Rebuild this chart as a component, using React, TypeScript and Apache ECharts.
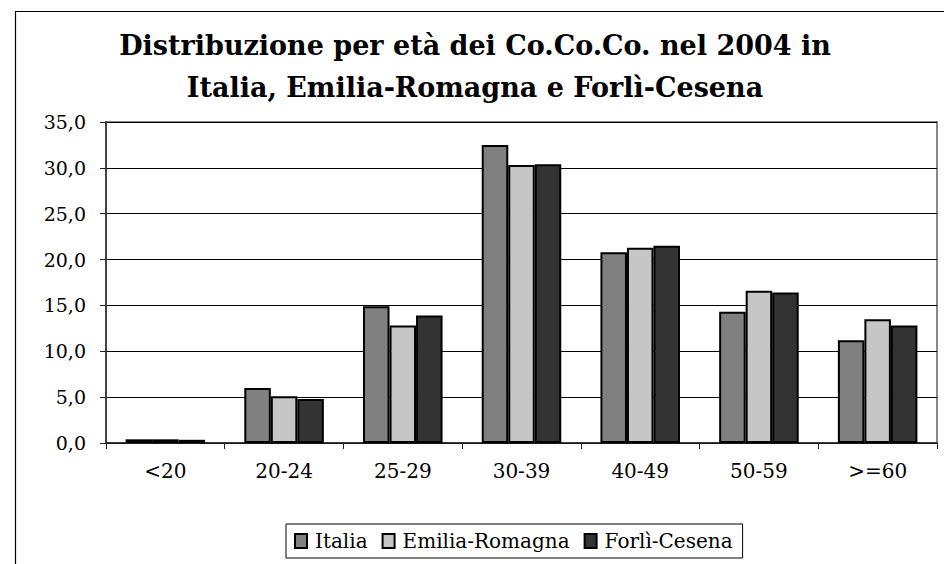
import React, { useEffect, useRef } from "react";
import * as echarts from "echarts";

const categories = ["<20", "20-24", "25-29", "30-39", "40-49", "50-59", ">=60"];
const italia = [0.4, 6.0, 14.9, 32.5, 20.8, 14.3, 11.2];
const emiliaRomagna = [0.4, 5.1, 12.8, 30.3, 21.3, 16.6, 13.5];
const forliCesena = [0.35, 4.8, 13.9, 30.4, 21.5, 16.4, 12.8];
const seriesNames = ["Italia", "Emilia-Romagna", "Forlì-Cesena"];
const titleLines = ["Distribuzione per età dei Co.Co.Co. nel 2004 in", "Italia, Emilia-Romagna e Forlì-Cesena"];

const FONT = "DejaVu Serif";

export default function App() {
  const ref = useRef<HTMLDivElement>(null);
  useEffect(() => {
    document.body.style.margin = "0";
    const chart = echarts.init(ref.current!, null, { renderer: "svg" });
    const barStyle = (color: string) => ({
      color,
      borderColor: "#000",
      borderWidth: 2,
    });
    chart.setOption({
      animation: false,
      backgroundColor: "#fff",
      title: {
        text: titleLines.join("\n"),
        left: 470,
        textAlign: "center",
        top: 19,
        textStyle: {
          fontFamily: FONT,
          fontWeight: "bold",
          fontSize: 27,
          lineHeight: 42,
          color: "#000",
        },
      },
      graphic: [
        {
          type: "rect",
          shape: { x: 15.5, y: 11.5, width: 1000, height: 1000 },
          style: { fill: "none", stroke: "#000", lineWidth: 1.2 },
          silent: true,
          z: 100,
        },
      ],
      legend: {
        data: seriesNames,
        bottom: 6,
        left: 286,
        itemWidth: 12,
        itemHeight: 14,
        itemGap: 14,
        icon: "rect",
        padding: [7, 10, 7, 8],
        borderColor: "#000",
        borderWidth: 1,
        borderRadius: 0,
        textStyle: { fontFamily: FONT, fontSize: 20, color: "#000", padding: [0, 0, 0, 3] },
      },
      grid: {
        left: 106,
        right: 7,
        top: 122,
        bottom: 121,
        show: true,
        borderColor: "#888",
        borderWidth: 2,
      },
      xAxis: {
        type: "category",
        data: categories,
        axisLine: { lineStyle: { color: "#222", width: 1.5 } },
        axisTick: { show: true, length: 6, lineStyle: { color: "#222" } },
        axisLabel: { fontFamily: FONT, fontSize: 20, color: "#000", margin: 18 },
      },
      yAxis: {
        type: "value",
        min: 0,
        max: 35,
        interval: 5,
        axisLine: { show: true, lineStyle: { color: "#444", width: 2 } },
        axisTick: { show: true, length: 6, lineStyle: { color: "#222" } },
        splitLine: { show: true, lineStyle: { color: "#000", width: 1 } },
        axisLabel: {
          fontFamily: FONT,
          fontSize: 19,
          color: "#000",
          margin: 20,
          formatter: (v: number) => v.toFixed(1).replace(".", ","),
        },
      },
      series: [
        { name: seriesNames[0], type: "bar", data: italia, itemStyle: barStyle("#808080"), barGap: "0%", barCategoryGap: "33%" },
        { name: seriesNames[1], type: "bar", data: emiliaRomagna, itemStyle: barStyle("#c6c6c6"), barGap: "0%", barCategoryGap: "33%" },
        { name: seriesNames[2], type: "bar", data: forliCesena, itemStyle: barStyle("#333333"), barGap: "0%", barCategoryGap: "33%" },
      ],
    });
    return () => chart.dispose();
  }, []);
  return <div ref={ref} style={{ width: 944, height: 564 }} />;
}
